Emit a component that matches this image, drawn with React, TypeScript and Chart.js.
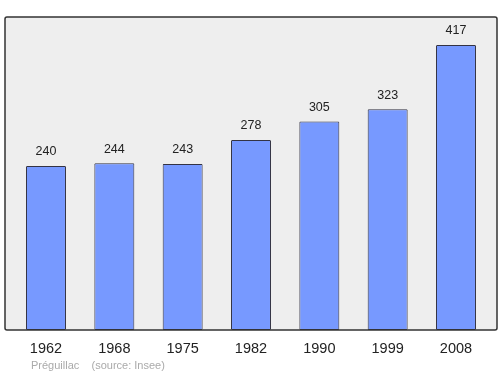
import React, { useEffect, useRef } from "react";
import { Chart, registerables } from "chart.js";

Chart.register(...registerables);

const years = ["1962", "1968", "1975", "1982", "1990", "1999", "2008"];
const population = [240, 244, 243, 278, 305, 323, 417];
const yMax = 458;
const footerText = "Préguillac    (source: Insee)";

const framePlugin = {
  id: "frame",
  beforeDraw(chart: any) {
    const { ctx, chartArea } = chart;
    const { left, top, right, bottom } = chartArea;
    ctx.save();
    ctx.fillStyle = "#eeeeee";
    ctx.fillRect(left, top, right - left, bottom - top);
    ctx.restore();
  },
  afterDatasetsDraw(chart: any) {
    const { ctx, chartArea } = chart;
    const { left, top, right, bottom } = chartArea;
    ctx.save();
    ctx.strokeStyle = "#333333";
    ctx.lineWidth = 1.5;
    ctx.beginPath();
    if (ctx.roundRect) ctx.roundRect(left, top, right - left, bottom - top, 2);
    else ctx.rect(left, top, right - left, bottom - top);
    ctx.stroke();
    // value labels
    const meta = chart.getDatasetMeta(0);
    ctx.fillStyle = "#222222";
    ctx.font = "12.5px 'Liberation Sans', Arial, sans-serif";
    ctx.textAlign = "center";
    ctx.textBaseline = "middle";
    meta.data.forEach((bar: any, i: number) => {
      ctx.fillText(String(population[i]), bar.x, bar.y - 14);
    });
    // footer
    ctx.fillStyle = "#aaaaaa";
    ctx.font = "11px 'Liberation Sans', Arial, sans-serif";
    ctx.textAlign = "left";
    ctx.fillText(footerText, left + 26, bottom + 36);
    ctx.restore();
  },
};

export default function App() {
  const ref = useRef<HTMLCanvasElement>(null);
  useEffect(() => {
    document.body.style.margin = "0";
    const chart = new Chart(ref.current!, {
      type: "bar",
      data: {
        datasets: [
          {
            data: population.map((v, i) => ({ x: i, y: v })),
            backgroundColor: "#7799ff",
            borderColor: "#333344",
            borderWidth: 1,
            borderRadius: 1,
            borderSkipped: false,
            categoryPercentage: 1,
            barPercentage: 0.585,
          },
        ],
      },
      options: {
        animation: false,
        responsive: false,
        maintainAspectRatio: false,
        layout: { padding: { left: 5, right: 3, top: 17, bottom: 0 } },
        plugins: { legend: { display: false }, tooltip: { enabled: false } },
        scales: {
          x: {
            type: "linear",
            min: -0.6,
            max: 6.6,
            offset: false,
            grid: { display: false, drawTicks: false, offset: false },
            border: { display: false },
            afterBuildTicks: (scale: any) => {
              scale.ticks = years.map((_, i) => ({ value: i }));
            },
            afterFit: (scale: any) => {
              scale.height = 44;
            },
            ticks: {
              padding: 10,
              color: "#222222",
              font: { size: 14.5, family: "'Liberation Sans', Arial, sans-serif" },
              callback: (v: any) => years[v as number] ?? "",
              maxRotation: 0,
              autoSkip: false,
            },
          },
          y: {
            display: false,
            min: 0,
            max: yMax,
          },
        },
      },
      plugins: [framePlugin],
    });
    return () => chart.destroy();
  }, []);
  return (
    <div style={{ position: "absolute", left: 0, top: 0, width: 500, height: 374, background: "#fff" }}>
      <canvas ref={ref} width={500} height={374} />
    </div>
  );
}
